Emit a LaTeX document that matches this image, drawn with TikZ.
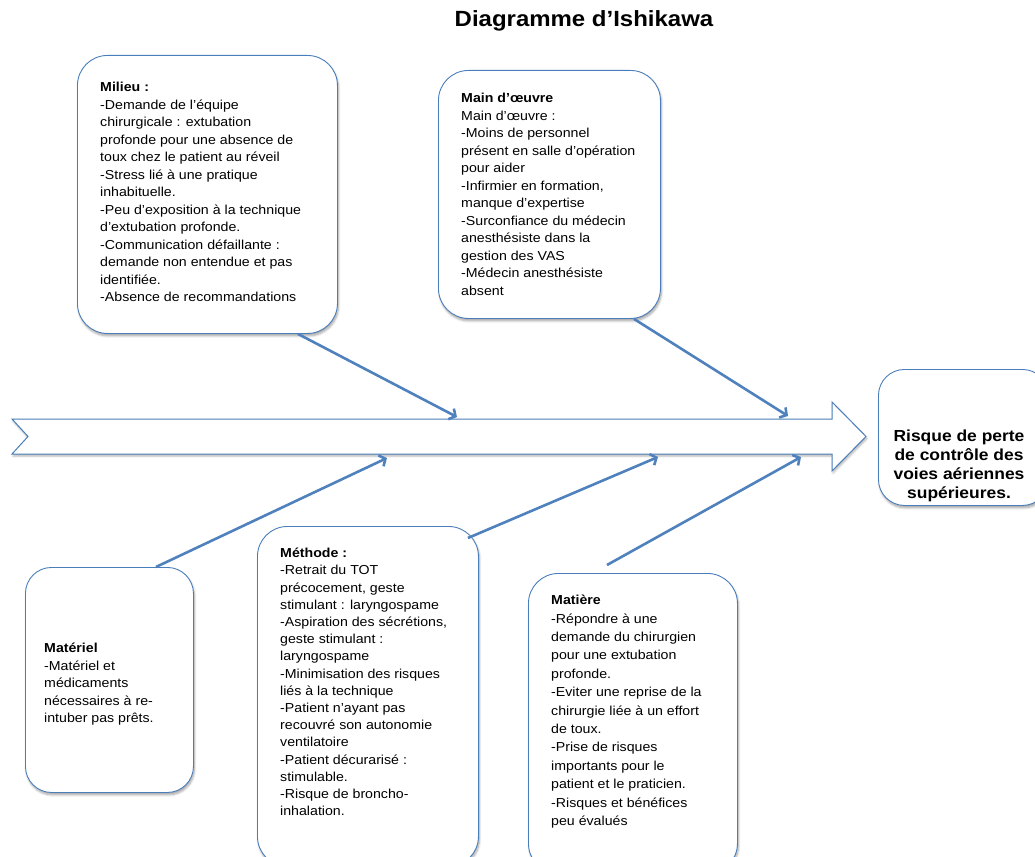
\documentclass[tikz,border=0pt]{standalone}
\usepackage{fontspec}
\setmainfont{Liberation Sans}[FakeStretch=1.09]
\usetikzlibrary{arrows.meta,calc,positioning,shadows.blur}
\definecolor{ishiblue}{HTML}{4A7EBB}
\definecolor{flowblue}{HTML}{4F81BD}

\begin{document}
\begin{tikzpicture}[x=1pt,y=-1pt,
cat/.style={draw=ishiblue,fill=white,rounded corners=30pt,line width=0.9pt,anchor=north west,inner sep=0pt,
  blur shadow={shadow xshift=1pt,shadow yshift=-2.5pt,shadow opacity=35,shadow blur steps=6}},
txt/.style={anchor=north west,align=left,inner sep=0pt,font=\fontsize{13}{17.5}\selectfont},
spine/.style={draw=ishiblue,fill=white,line width=1pt,
  blur shadow={shadow xshift=1pt,shadow yshift=-2pt,shadow opacity=30,shadow blur steps=5}},
flow/.style={draw=flowblue,line width=2.6pt,-{Straight Barb[length=5pt,width=12pt]}}]
\useasboundingbox (0,0) rectangle (1035,856);
\node[font=\fontsize{22}{25}\selectfont\bfseries] (title) at (584,21) {Diagramme d’Ishikawa};
% arête principale
\draw[spine] (12,419) coordinate (tail) -- (28,436.5) -- (12,454) -- (832,454) -- (832,471)
  -- (866,436.5) coordinate (tip) -- (832,402) -- (832,419) -- cycle;
\coordinate (e1) at (457,417);
\coordinate (e2) at (788,416);
\coordinate (e3) at (387,458);
\coordinate (e4) at (658,457);
\coordinate (e5) at (801,457);
% causes
\node[cat,minimum width=260pt,minimum height=278pt] (milieu) at (77,55) {};
\node[txt] (milieu-t) at (100,82) {\textbf{Milieu :}\\-Demande de l'équipe\\chirurgicale : extubation\\profonde pour une absence de\\toux chez le patient au réveil\\-Stress lié à une pratique\\inhabituelle.\\-Peu d’exposition à la technique\\d’extubation profonde.\\-Communication défaillante :\\demande non entendue et pas\\identifiée.\\-Absence de recommandations};
\node[cat,minimum width=222pt,minimum height=248pt] (main) at (438,70) {};
\node[txt] (main-t) at (461,93) {\textbf{Main d’œuvre}\\Main d’œuvre :\\-Moins de personnel\\présent en salle d’opération\\pour aider\\-Infirmier en formation,\\manque d’expertise\\-Surconfiance du médecin\\anesthésiste dans la\\gestion des VAS\\-Médecin anesthésiste\\absent};
\node[cat,rounded corners=26pt,minimum width=168pt,minimum height=225pt] (materiel) at (25,567) {};
\node[txt] (materiel-t) at (44,643) {\textbf{Matériel}\\-Matériel et\\médicaments\\nécessaires à re-\\intuber pas prêts.};
\node[cat,minimum width=221pt,minimum height=340pt] (methode) at (257,526) {};
\node[txt,font=\fontsize{13}{17.2}\selectfont] (methode-t) at (280,548) {\textbf{Méthode :}\\-Retrait du TOT\\précocement, geste\\stimulant : laryngospame\\-Aspiration des sécrétions,\\geste stimulant :\\laryngospame\\-Minimisation des risques\\liés à la technique\\-Patient n’ayant pas\\recouvré son autonomie\\ventilatoire\\-Patient décurarisé :\\stimulable.\\-Risque de broncho-\\inhalation.};
\node[cat,minimum width=209pt,minimum height=300pt] (matiere) at (528,573) {};
\node[txt,font=\fontsize{13}{18.4}\selectfont] (matiere-t) at (551,595) {\textbf{Matière}\\-Répondre à une\\demande du chirurgien\\pour une extubation\\profonde.\\-Eviter une reprise de la\\chirurgie liée à un effort\\de toux.\\-Prise de risques\\importants pour le\\patient et le praticien.\\-Risques et bénéfices\\peu évalués};
% effet
\node[cat,rounded corners=26pt,minimum width=170pt,minimum height=136pt] (risque) at (878,369) {};
\node[align=center,inner sep=0pt,font=\fontsize{16}{19}\selectfont\bfseries] (risque-t) at (959,466) {Risque de perte\\de contrôle des\\voies aériennes\\supérieures.};
% flèches
\draw[flow] ($(milieu.south east)+(-40,0)$) -- (e1);
\draw[flow] ($(main.south east)+(-27,0)$) -- (e2);
\draw[flow] ($(materiel.north east)+(-38,0)$) -- (e3);
\draw[flow] ($(methode.north east)+(-11,12)$) -- (e4);
\draw[flow] ($(matiere.north west)+(79,-8)$) -- (e5);
\end{tikzpicture}
\end{document}
